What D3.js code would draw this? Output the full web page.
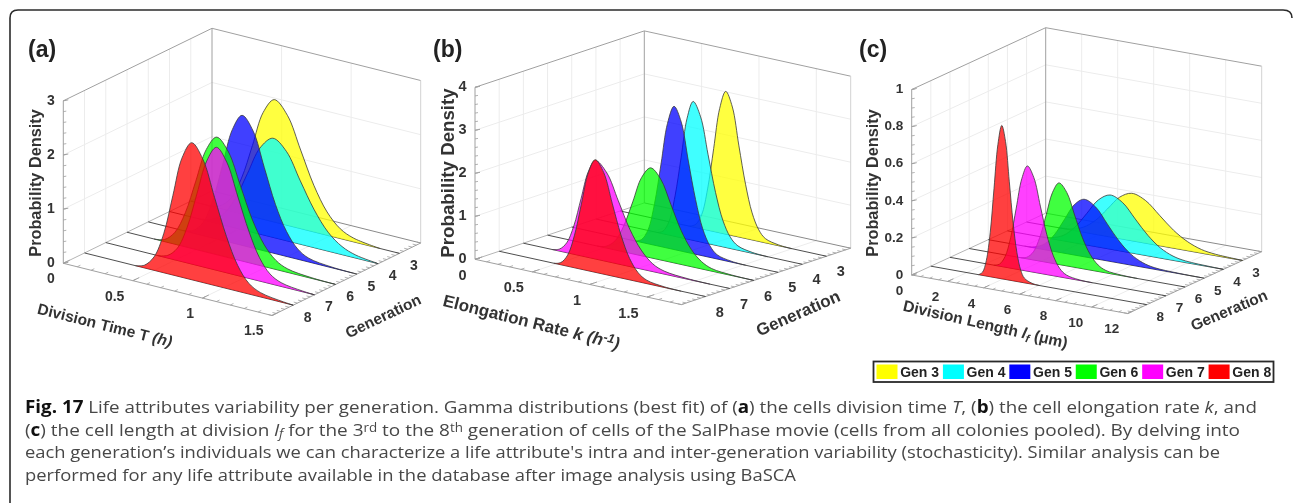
<!DOCTYPE html>
<html><head><meta charset="utf-8">
<script src="https://cdn.jsdelivr.net/npm/d3@7/dist/d3.min.js"></script>
<style>html,body{margin:0;padding:0;background:#fff}svg{display:block;filter:blur(.3px)}
text{font-family:"Liberation Sans",Arial,sans-serif}
.cap{font-family:"Open Sans",sans-serif;font-size:17px;fill:#474747}</style></head><body>
<svg id="c" width="1293" height="503"></svg>
<script>
const generations=[3,4,5,6,7,8];
const genColors=["#ffff00","#00ffff","#0000ff","#00ff00","#ff00ff","#ff0000"];
const legendLabels=["Gen 3","Gen 4","Gen 5","Gen 6","Gen 7","Gen 8"];

// (a) Division time: x values and densities per generation
const aX3=[.13,.21,.286,.365,.443,.52,.60,.695,.79,.885,.98,1.075,1.17,1.36];
const aZ3=[0,.05,.23,.66,1.31,1.97,2.26,2.03,1.45,.86,.43,.18,.07,0];
const aX4=[.20,.29,.38,.47,.56,.65,.742,.84,.94,1.04,1.14,1.24,1.34,1.49];
const aZ4=[0,.04,.18,.53,1.06,1.59,1.83,1.65,1.17,.70,.35,.15,.055,.006];
const aX5=[.254,.324,.394,.464,.534,.604,.674,.754,.834,.914,.994,1.074,1.154,1.314,1.474];
const aZ5=[0,.05,.24,.70,1.39,2.09,2.40,2.16,1.54,.91,.46,.19,.07,.014,0];
const aX6=[.194,.27,.344,.419,.494,.569,.644,.729,.814,.899,.984,1.069,1.154,1.324,1.494];
const aZ6=[0,.04,.22,.63,1.26,1.89,2.17,1.95,1.39,.82,.41,.17,.065,.013,0];
const aX7=[.375,.445,.515,.585,.655,.725,.795,.87,.95,1.03,1.105,1.18,1.26,1.415,1.5];
const aZ7=[0,.05,.23,.66,1.32,1.97,2.27,2.04,1.45,.86,.43,.18,.07,.014,0];
const aX8=[.365,.43,.50,.57,.635,.70,.77,.85,.935,1.02,1.10,1.18,1.265,1.43,1.50];
const aZ8=[0,.05,.25,.73,1.47,2.20,2.53,2.28,1.62,.96,.48,.20,.08,.015,0];

// (b) Elongation rate
const bX3=[.606,.658,.711,.763,.816,.868,.921,.979,1.036,1.094,1.151,1.209,1.266,1.381,1.496];
const bZ3=[0,.07,.33,.96,1.93,2.89,3.32,2.99,2.12,1.26,.63,.27,.10,.02,0];
const bX4=[.533,.585,.638,.69,.743,.795,.848,.913,.978,1.043,1.108,1.173,1.238,1.368,1.498];
const bZ4=[0,.06,.32,.94,1.87,2.81,3.23,2.91,2.07,1.23,.61,.26,.10,.02,0];
const bX5=[.553,.61,.666,.722,.779,.835,.892,.955,1.017,1.08,1.142,1.205,1.267,1.392,1.517];
const bZ5=[0,.07,.33,.97,1.93,2.90,3.33,3.00,2.13,1.27,.63,.27,.10,.02,0];
const bX6=[.433,.51,.588,.665,.743,.82,.898,.987,1.076,1.165,1.254,1.343,1.432,1.61,1.788];
const bZ6=[0,.04,.21,.61,1.21,1.82,2.09,1.88,1.34,.79,.40,.17,.06,.012,0];
const bX7=[.253,.316,.378,.44,.503,.566,.628,.728,.828,.928,1.028,1.128,1.228,1.428,1.628];
const bZ7=[0,.05,.23,.66,1.33,1.99,2.29,2.06,1.47,.87,.44,.18,.07,.014,0];
const bX8=[.477,.537,.597,.657,.717,.777,.837,.912,.987,1.062,1.137,1.212,1.287,1.437,1.587];
const bZ8=[0,.05,.26,.76,1.52,2.28,2.62,2.36,1.68,1.00,.50,.21,.08,.016,0];

// (c) Division length
const cX3=[1.79,2.465,3.14,3.815,4.49,5.165,5.84,6.615,7.39,8.165,8.94,9.715,10.49,12];
const cZ3=[0,.005,.026,.074,.148,.223,.256,.23,.164,.097,.049,.02,.008,.001];
const cX4=[1.8,2.45,3.1,3.75,4.4,5.05,5.7,6.4,7.1,7.8,8.5,9.2,9.9,11.3,12];
const cZ4=[0,.006,.029,.085,.169,.254,.292,.263,.187,.111,.055,.023,.009,.002,0];
const cX5=[2.02,2.57,3.12,3.67,4.22,4.77,5.32,5.97,6.62,7.27,7.92,8.57,9.22,10.52,11.82];
const cZ5=[0,.006,.031,.09,.18,.27,.31,.279,.198,.118,.059,.025,.009,.002,0];
const cX6=[2.86,3.215,3.57,3.925,4.28,4.635,4.99,5.425,5.86,6.295,6.73,7.165,7.60,8.47,9.34];
const cZ6=[0,.009,.044,.128,.255,.383,.44,.396,.282,.167,.084,.035,.013,.003,0];
const cX7=[2.44,2.75,3.06,3.37,3.68,3.99,4.30,4.66,5.02,5.38,5.74,6.10,6.46,7.18,7.90];
const cZ7=[0,.011,.057,.164,.329,.493,.567,.51,.363,.215,.108,.045,.017,.003,0];
const cX8=[2.65,2.87,3.08,3.30,3.51,3.725,3.94,4.15,4.36,4.57,4.78,4.99,5.20,5.62,6.04];
const cZ8=[0,.017,.083,.24,.48,.72,.827,.744,.53,.314,.157,.066,.025,.005,0];

const aXTicks=[0,.5,1,1.5], bXTicks=[0,.5,1,1.5], cXTicks=[0,2,4,6,8,10,12];
const aZTicks=[0,1,2,3], bZTicks=[0,1,2,3,4], cZTicks=[0,.2,.4,.6,.8,1];
const genTicks=[3,4,5,6,7,8];

const panels=[
 {tag:"(a)",tagX:28,O:[63.3,263.3],XEnd:[272,315.5],back:[212,190.8],zPx:162.5,xMax:1.5,zMax:3,
  xt:aXTicks,zt:aZTicks,xm:.1,zm:.2,X:[aX3,aX4,aX5,aX6,aX7,aX8],Z:[aZ3,aZ4,aZ5,aZ6,aZ7,aZ8],
  xOff:[-8.5,15],zOff:-13,gOff:[14.5,11.7],tf:14,
  xl:{c:[105,325],r:14,f:15.5,t:[["Division Time T ",""],["(h)","i"]]},
  gl:{c:[383,316],r:-25.5,f:15.5},pl:{c:[35,183],f:16.3}},
 {tag:"(b)",tagX:433,O:[475,259.3],XEnd:[681.4,304.6],back:[644.3,202.9],zPx:172,xMax:1.8,zMax:4,
  xt:bXTicks,zt:bZTicks,xm:.1,zm:.2,X:[bX3,bX4,bX5,bX6,bX7,bX8],Z:[bZ3,bZ4,bZ5,bZ6,bZ7,bZ8],
  xOff:[-8.5,15.5],zOff:-13,gOff:[14.2,15],tf:14.5,
  xl:{c:[531.5,322],r:14,f:17,t:[["Elongation Rate ",""],["k (h","i"],["-1","si"],[")","i"]]},
  gl:{c:[798,313],r:-23.7,f:17},pl:{c:[447,173],f:18.7}},
 {tag:"(c)",tagX:859,O:[911.7,275],XEnd:[1127.7,313.5],back:[1045.7,213.2],zPx:185.5,xMax:12,zMax:1,
  xt:cXTicks,zt:cZTicks,xm:.5,zm:.05,X:[cX3,cX4,cX5,cX6,cX7,cX8],Z:[cZ3,cZ4,cZ5,cZ6,cZ7,cZ8],
  xOff:[-8.5,15],zOff:-13,gOff:[13.5,11.6],tf:13.5,
  xl:{c:[985.5,324],r:13,f:15.7,t:[["Division Length ",""],["l","i"],["f","s"],[" (μm)",""]]},
  gl:{c:[1229,310],r:-23,f:15.5},pl:{c:[872,183],f:16.3}}
];

const svg=d3.select("#c");
// frame
svg.append("path").attr("d","M10,503V18Q10,10 18,10H1283Q1292,10 1292,18")
 .attr("fill","none").attr("stroke","#2b2b2b").attr("stroke-width",1.6);

const line=d3.line().curve(d3.curveCatmullRom.alpha(.5));
panels.forEach(drawPanel);

function drawPanel(p){
 const g=svg.append("g");
 // axes as separate linear scales projected to the page
 const xx=d3.scaleLinear().domain([0,p.xMax]).range([0,p.XEnd[0]-p.O[0]]);
 const xy=d3.scaleLinear().domain([0,p.xMax]).range([0,p.XEnd[1]-p.O[1]]);
 const gx=d3.scaleLinear().domain([9,2]).range([0,p.back[0]-p.O[0]]);
 const gy=d3.scaleLinear().domain([9,2]).range([0,p.back[1]-p.O[1]]);
 const zy=d3.scaleLinear().domain([0,p.zMax]).range([0,p.zPx]);
 const P=(x,n,z)=>[p.O[0]+xx(x)+gx(n),p.O[1]+xy(x)+gy(n)-zy(z)];
 const seg=(a,b,col,w)=>g.append("line").attr("x1",a[0]).attr("y1",a[1]).attr("x2",b[0]).attr("y2",b[1])
   .attr("stroke",col).attr("stroke-width",w);
 const grid="#ececec", edge="#a0a0a0";
 // grid
 p.zt.forEach(z=>{ if(z===0||z===p.zMax) return;
   seg(P(0,9,z),P(0,2,z),grid,1); seg(P(0,2,z),P(p.xMax,2,z),grid,1);});
 genTicks.forEach(n=>{seg(P(0,n,0),P(0,n,p.zMax),grid,1);});
 p.xt.forEach(x=>{ if(x===0||x===p.xMax) return;
   seg(P(x,2,0),P(x,2,p.zMax),grid,1); seg(P(x,9,0),P(x,2,0),grid,1);});
 // walls / floor edges
 seg(P(0,2,0),P(0,2,p.zMax),edge,1);
 seg(P(0,9,p.zMax),P(0,2,p.zMax),edge,1);
 seg(P(0,2,p.zMax),P(p.xMax,2,p.zMax),edge,1);
 seg(P(p.xMax,2,0),P(p.xMax,2,p.zMax),"#d2d2d2",1);
 seg(P(0,9,0),P(0,2,0),"#b5b5b5",1);
 seg(P(0,2,0),P(p.xMax,2,0),"#8a8a8a",1);
 seg(P(0,9,0),P(0,9,p.zMax),edge,1);
 seg(P(0,9,0),P(p.xMax,9,0),edge,1);
 seg(P(p.xMax,9,0),P(p.xMax,2,0),edge,1);
 // minor ticks
 d3.range(0,p.xMax+1e-6,p.xm).forEach(x=>{const a=P(x,9,0),b=P(x,8.85,0);seg(a,b,edge,.8);});
 d3.range(2,9.01,.2).forEach(n=>{const a=P(p.xMax,n,0),b=P(p.xMax-p.xMax*.018,n,0);seg(a,b,edge,.8);});
 d3.range(0,p.zMax+1e-6,p.zm).forEach(z=>{const a=P(0,9,z);seg(a,[a[0]+3,a[1]-.5],edge,.8);});
 p.xt.forEach(x=>{const a=P(x,9,0),b=P(x,8.7,0);seg(a,b,edge,1);});
 p.zt.forEach(z=>{const a=P(0,9,z);seg(a,[a[0]+5,a[1]-1],edge,1);});
 // series back to front
 generations.forEach((n,i)=>{
   seg(P(0,n,0),P(p.xMax,n,0),"#3a3a3a",.9);
   const pts=p.X[i].map((x,k)=>P(x,n,p.Z[i][k]));
   const top=line(pts);
   const e0=P(p.X[i][0],n,0), e1=P(p.X[i][p.X[i].length-1],n,0);
   g.append("path").attr("d",top+`L${e1}L${e0}Z`).attr("fill",genColors[i]).attr("fill-opacity",.75).attr("stroke","none");
   g.append("path").attr("d",top).attr("fill","none").attr("stroke","#3a3a3a").attr("stroke-width",.8);
 });
 // tick labels
 const label=(pos,t,fs,anchor)=>g.append("text").attr("x",pos[0]).attr("y",pos[1]).attr("dy",".35em")
   .attr("text-anchor",anchor||"middle").attr("font-weight","bold").attr("font-size",fs).attr("fill","#333").text(t);
 p.xt.forEach(x=>{const a=P(x,9,0);label([a[0]+p.xOff[0],a[1]+p.xOff[1]],String(x),p.tf,"end");});
 p.zt.forEach(z=>{const a=P(0,9,z);label([a[0]-8.5,a[1]-1],String(z),p.tf,"end");});
 genTicks.forEach(n=>{const a=P(p.xMax,n,0);label([a[0]+p.gOff[0],a[1]+p.gOff[1]],String(n),p.tf);});
 // axis titles
 const xl=g.append("text").attr("transform",`translate(${p.xl.c}) rotate(${p.xl.r})`)
   .attr("text-anchor","middle").attr("dy",".35em").attr("font-weight","bold").attr("font-size",p.xl.f).attr("fill","#333");
 p.xl.t.forEach(([t,s])=>{const sp=xl.append("tspan").text(t);
   if(s==="i"||s==="si") sp.attr("font-style","italic");
   if(s==="si") sp.attr("font-size",p.xl.f*.75).attr("baseline-shift","40%");
   if(s==="s") sp.attr("font-size",p.xl.f*.7).attr("baseline-shift","-25%").attr("font-style","italic");});
 g.append("text").attr("transform",`translate(${p.gl.c}) rotate(${p.gl.r})`).attr("text-anchor","middle").attr("dy",".35em")
   .attr("font-weight","bold").attr("font-size",p.gl.f).attr("fill","#333").text("Generation");
 g.append("text").attr("transform",`translate(${p.pl.c}) rotate(-90)`).attr("text-anchor","middle").attr("dy",".35em")
   .attr("font-weight","bold").attr("font-size",p.pl.f).attr("fill","#333").text("Probability Density");
 g.append("text").attr("x",p.tagX).attr("y",57).attr("font-weight","bold").attr("font-size",23).attr("fill","#222").text(p.tag);
}

// legend
const lg=svg.append("g");
lg.append("rect").attr("x",873.5).attr("y",361.5).attr("width",400).attr("height",20.5)
  .attr("fill","#fff").attr("stroke","#2a2a2a").attr("stroke-width",1.8);
const lx=d3.scaleBand().domain(legendLabels).range([876.5,1275]);
legendLabels.forEach((t,i)=>{
 lg.append("rect").attr("x",lx(t)).attr("y",364.5).attr("width",21).attr("height",14.5)
   .attr("fill",genColors[i]);
 lg.append("text").attr("x",lx(t)+23.7).attr("y",377).attr("font-weight","bold").attr("font-size",14).attr("fill","#222").text(t);
});

// caption
const capLines=[
 {len:1232,y:413,p:[["Fig. 17","B"],[" Life attributes variability per generation. Gamma distributions (best fit) of (",""],["a","B"],[") the cells division time ",""],["T","I"],[", (",""],["b","B"],[") the cell elongation rate ",""],["k","I"],[", and",""]]},
 {len:1215,y:436,p:[["(",""],["c","B"],[") the cell length at division ",""],["l","I"],["f","SI"],[" for the 3",""],["rd","S"],[" to the 8",""],["th","S"],[" generation of cells of the SalPhase movie (cells from all colonies pooled). By delving into",""]]},
 {len:1195,y:458,p:[["each generation’s individuals we can characterize a life attribute's intra and inter-generation variability (stochasticity). Similar analysis can be",""]]},
 {len:771,y:481,p:[["performed for any life attribute available in the database after image analysis using BaSCA",""]]}
];
capLines.forEach(l=>{
 const t=svg.append("text").attr("class","cap").attr("x",25).attr("y",l.y)
   .attr("textLength",l.len).attr("lengthAdjust","spacingAndGlyphs");
 l.p.forEach(([s,k])=>{const sp=t.append("tspan").text(s);
  if(k==="B") sp.attr("font-weight","bold").attr("fill","#111");
  if(k==="I") sp.attr("font-style","italic");
  if(k==="S") sp.attr("font-size",12).attr("baseline-shift","35%");
  if(k==="SI") sp.attr("font-size",12).attr("baseline-shift","-20%").attr("font-style","italic");
 });
});
</script></body></html>
